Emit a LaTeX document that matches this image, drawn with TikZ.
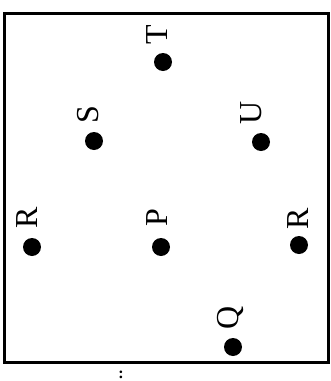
\documentclass[tikz,border=0pt]{standalone}
\usepackage{fontspec}
\setmainfont{Liberation Serif}
\usetikzlibrary{positioning,calc}

\begin{document}
\begin{tikzpicture}[
    x=1pt, y=-1pt,
    pt/.style={circle, fill=black, inner sep=0pt, minimum size=18pt},
    lbl/.style={rotate=90, inner sep=0pt, font=\fontsize{32}{34}\selectfont},
    frame/.style={draw, line width=3pt},
]
\useasboundingbox (0,0) rectangle (331,381);
\node[frame, inner sep=0pt, minimum width=324pt, minimum height=349pt] (box) at (166.5,187.5) {};

\node[pt] (t) at (163,62) {};
\node[pt] (s) at (94,141) {};
\node[pt] (u) at (261,142) {};
\node[pt] (rl) at (32,247) {};
\node[pt] (p) at (161,247) {};
\node[pt] (rr) at (299,245) {};
\node[pt] (q) at (233,347) {};

\node[lbl] (tl) at ($(t)+(-6,-27)$) {T};
\node[lbl] (sl) at ($(s)+(-6,-26)$) {S};
\node[lbl] (ul) at ($(u)+(-10,-29)$) {U};
\node[lbl] (rll) at ($(rl)+(-5,-29)$) {R};
\node[lbl] (pl) at ($(p)+(-4,-29)$) {P};
\node[lbl] (rrl) at ($(rr)+(-1,-26)$) {R};
\node[lbl] (ql) at ($(q)+(-3,-29)$) {Q};

\node[anchor=base, inner sep=0pt, font=\fontsize{16}{18}\selectfont\bfseries] (dots) at (121,378.8) {:};
\end{tikzpicture}
\end{document}
